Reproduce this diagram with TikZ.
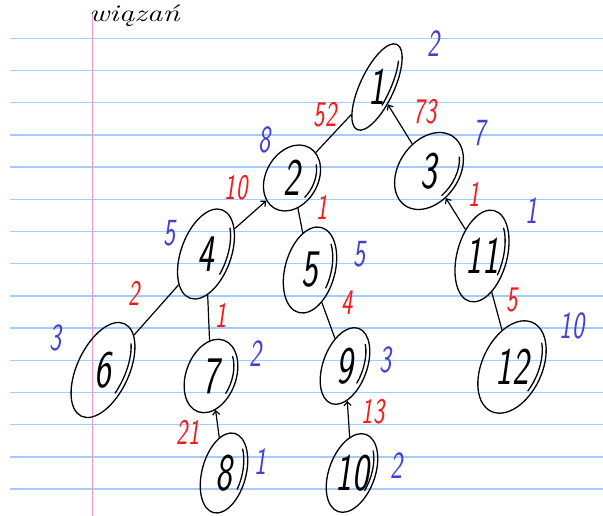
\documentclass[tikz,border=0pt]{standalone}
\usetikzlibrary{shapes.geometric,arrows.meta}
\definecolor{ruleblue}{RGB}{160,205,255}
\definecolor{marginpink}{RGB}{242,155,200}
\definecolor{wred}{RGB}{245,25,25}
\definecolor{vblue}{RGB}{65,65,210}
\newcommand\hw[1]{\scalebox{0.8}[1.2]{#1}}
\tikzset{
  vert/.style={draw=black, line width=1.3pt, ellipse, inner sep=0pt},
  num/.style={font=\fontsize{44}{44}\selectfont\sffamily\slshape, inner sep=0pt},
  wgt/.style={text=wred, font=\fontsize{30}{30}\selectfont\sffamily\slshape, inner sep=0pt},
  val/.style={text=vblue, font=\fontsize{32}{32}\selectfont\sffamily\slshape, inner sep=0pt},
  tree/.style={line width=1.2pt},
  back/.style={line width=1.2pt, -{Straight Barb[length=4pt,width=7pt]}},
  rule/.style={ruleblue, line width=1.4pt},
}
\newcommand\vtx[7]{%
  \node[vert, minimum width={2*#4pt}, minimum height={2*#5pt}, rotate=#6] (n#1) at (#2,#3) {};
  \node[num] (t#1) at (#2,#3) {\hw{#7}};
  \draw[line width=1.3pt, shift={(#2,#3)}, rotate=#6]
    (50:{#4pt-4pt} and {#5pt-4pt}) arc[start angle=50, end angle=-20, x radius={#4pt-4pt}, y radius={#5pt-4pt}];
}
\begin{document}
\begin{tikzpicture}[x=1pt,y=-1pt]
\useasboundingbox (0,0) rectangle (603,516);
\fill[white] (0,0) rectangle (603,516);
% ruled paper
\foreach \k in {0,...,14} \draw[rule] (10,{38.3+32.2*\k}) -- (603,{38.3+32.2*\k});
\draw[marginpink, line width=1.4pt] (92.5,13) -- (92.5,516);
\node[anchor=base west, inner sep=0pt, font=\fontsize{24}{24}\selectfont\itshape] (title) at (89,22) {\scalebox{1.3}[1]{wiązań}};
% vertices
\vtx{1}{377}{87}{17}{47}{-25}{1}
\vtx{2}{292}{178}{26}{35}{-30}{2}
\vtx{3}{429}{171}{30}{42}{-35}{3}
\vtx{4}{206}{254}{25}{47}{-20}{4}
\vtx{5}{310}{270}{25}{44}{-15}{5}
\vtx{6}{103}{370}{26}{51}{-25}{6}
\vtx{7}{211}{376}{25}{38}{-20}{7}
\vtx{8}{224}{473}{22}{41}{-15}{8}
\vtx{9}{345}{366}{22}{40}{-20}{9}
\vtx{10}{352}{473}{23}{41}{-20}{10}
\vtx{11}{482}{256}{25}{47}{-15}{11}
\vtx{12}{512}{367}{30}{49}{-25}{12}
% edges
\draw[tree] (n1) -- (n2);
\draw[back] (n3) -- (n1);
\draw[back] (n4) -- (n2);
\draw[tree] (n2) -- (n5);
\draw[back] (n11) -- (n3);
\draw[tree] (n4) -- (n6);
\draw[tree] (n4) -- (n7);
\draw[back] (n8) -- (n7);
\draw[tree] (n5) -- (n9);
\draw[back] (n10) -- (n9);
\draw[tree] (n11) -- (n12);
% edge weights
\node[wgt] (w12) at (325,115) {\hw{52}};
\node[wgt] (w13) at (425,112) {\hw{73}};
\node[wgt] (w24) at (236,188) {\hw{10}};
\node[wgt] (w25) at (322,207) {\hw{1}};
\node[wgt] (w311) at (474,194) {\hw{1}};
\node[wgt] (w46) at (134,293) {\hw{2}};
\node[wgt] (w47) at (221,315) {\hw{1}};
\node[wgt] (w78) at (188,432) {\hw{21}};
\node[wgt] (w59) at (347,303) {\hw{4}};
\node[wgt] (w910) at (373,412) {\hw{13}};
\node[wgt] (w1112) at (512,300) {\hw{5}};
% vertex values
\node[val] (v1) at (434,44) {\hw{2}};
\node[val] (v2) at (265,140) {\hw{8}};
\node[val] (v3) at (480,133) {\hw{7}};
\node[val] (v4) at (170,233) {\hw{5}};
\node[val] (v5) at (360,254) {\hw{5}};
\node[val] (v11) at (532,211) {\hw{1}};
\node[val] (v6) at (56,338) {\hw{3}};
\node[val] (v7) at (256,354) {\hw{2}};
\node[val] (v8) at (261,462) {\hw{1}};
\node[val] (v9) at (386,360) {\hw{3}};
\node[val] (v10) at (397,466) {\hw{2}};
\node[val] (v12) at (572,326) {\hw{10}};
\end{tikzpicture}
\end{document}
